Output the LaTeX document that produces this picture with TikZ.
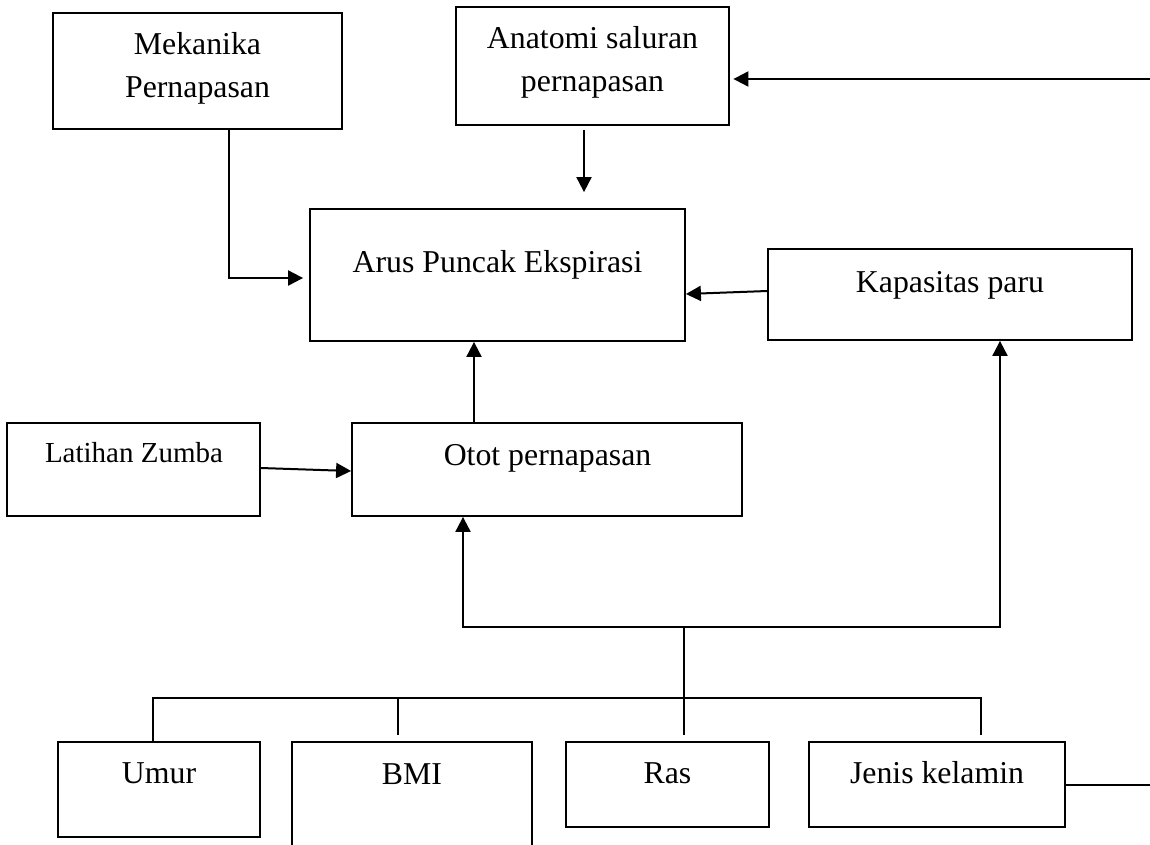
\documentclass[tikz,border=0pt]{standalone}
\usepackage{fontspec}
\setmainfont{Liberation Serif}
\usetikzlibrary{arrows.meta}
\begin{document}
\begin{tikzpicture}[x=1pt,y=-1pt,
  box/.style={draw, line width=1.8pt, rectangle, inner sep=0pt},
  lbl/.style={inner sep=0pt, anchor=base, font=\fontsize{31.8}{43}\selectfont},
  lbltwo/.style={inner sep=0pt, anchor=center, align=center, font=\fontsize{31.8}{43}\selectfont},
  lblsmall/.style={inner sep=0pt, anchor=base, font=\fontsize{29}{35}\selectfont},
  conn/.style={line width=2pt, line join=miter},
  arr/.style={conn, -{Triangle[length=15pt,width=15pt]}}]
\useasboundingbox (0,0) rectangle (1150,844);
\clip (0,0) rectangle (1150,844);

% boxes
\node[box, minimum width=289pt, minimum height=116pt] (mek) at (197.5,71) {};
\node[box, minimum width=273pt, minimum height=118pt] (ana) at (592.5,66) {};
\node[box, minimum width=375pt, minimum height=132pt] (arus) at (497.5,275) {};
\node[box, minimum width=364pt, minimum height=91pt] (kap) at (950,294.5) {};
\node[box, minimum width=253pt, minimum height=93pt] (lat) at (133.5,469.5) {};
\node[box, minimum width=390pt, minimum height=93pt] (otot) at (547,469.5) {};
\node[box, minimum width=202pt, minimum height=95pt] (umur) at (159,789.5) {};
\node[box, minimum width=240pt, minimum height=158pt] (bmi) at (412,821) {};
\node[box, minimum width=203pt, minimum height=85pt] (ras) at (667.5,784.5) {};
\node[box, minimum width=256pt, minimum height=85pt] (jenis) at (937,784.5) {};

% texts
\node[lbltwo] (mekt) at (197.5,68) {Mekanika\\Pernapasan};
\node[lbltwo] (anat) at (592.5,62) {Anatomi saluran\\pernapasan};
\node[lbl] (arust) at (497.5,272) {Arus Puncak Ekspirasi};
\node[lbl] (kapt) at (950,292) {Kapasitas paru};
\node[lblsmall] (latt) at (134,462) {Latihan Zumba};
\node[lbl] (otott) at (547.5,465) {Otot pernapasan};
\node[lbl] (umurt) at (159,783) {Umur};
\node[lbl] (bmit) at (412,784) {BMI};
\node[lbl] (rast) at (667.5,783) {Ras};
\node[lbl] (jenist) at (937,783) {Jenis kelamin};

% free ends and junctions
\coordinate (rt1) at (1150,79);
\coordinate (rt2) at (1150,785);
\coordinate (mekc) at (229,278);
\coordinate (b1) at (463,627);
\coordinate (b2) at (1000,627);
\coordinate (j) at (684,627);
\coordinate (bL) at (153,698);
\coordinate (bR) at (981,698);
\coordinate (dJ) at (981,735);
\coordinate (dB0) at (398,698);
\coordinate (dB) at (398,735);
\coordinate (dR) at (684,735);

% connectors
\draw[arr, shorten >=6pt] (mek.south -| mekc) -- (mekc) -- (arus.west |- mekc);
\draw[arr, shorten >=3.5pt] (rt1) -- (ana.east |- rt1);
\draw[arr, shorten <=4pt, shorten >=16pt] (ana.south -| 584,0) -- (arus.north -| 584,0);
\draw[arr] (kap.west |- 0,291) -- (arus.east |- 0,294);
\draw[arr] (otot.north -| 474,0) -- (arus.south -| 474,0);
\draw[arr] (lat.east |- 0,468) -- (otot.west |- 0,471);
\draw[conn, {Triangle[length=15pt,width=15pt]}-{Triangle[length=15pt,width=15pt]}]
  (otot.south -| b1) -- (b1) -- (b2) -- (kap.south -| b2);
\draw[conn] (j) -- (dR);
\draw[conn] (umur.north -| bL) -- (bL) -- (bR) -- (dJ);
\draw[conn] (dB0) -- (dB);
\draw[conn] (jenis.east |- rt2) -- (rt2);
\end{tikzpicture}
\end{document}
